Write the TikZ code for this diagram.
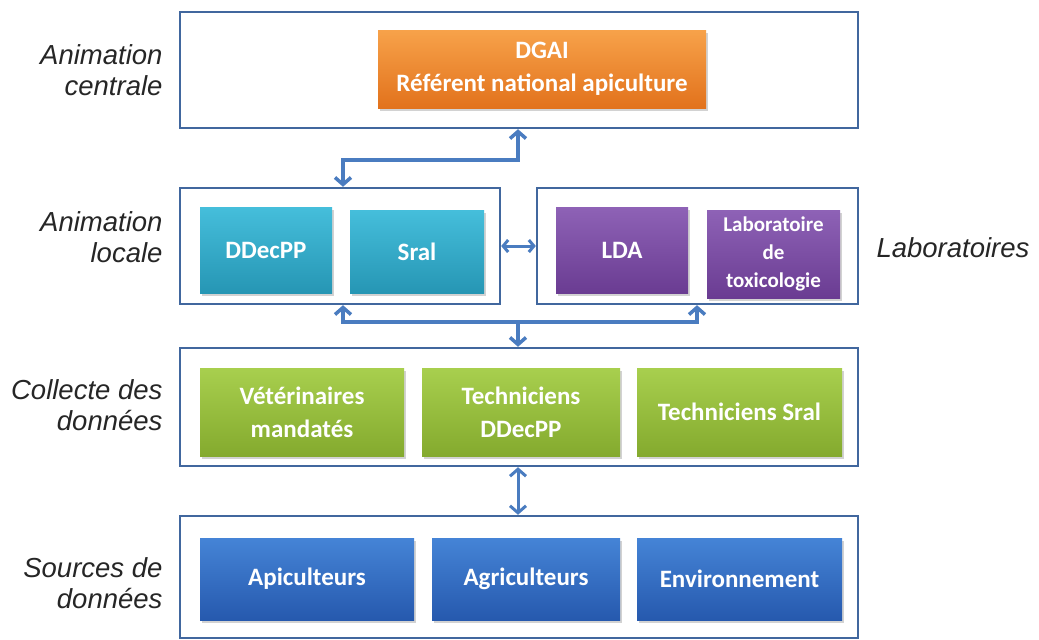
\documentclass[tikz,border=0pt]{standalone}
\usepackage{fontspec}
\setmainfont{Liberation Sans}
\newfontfamily\boxfont{Carlito}
\usetikzlibrary{arrows.meta,shadows}
\definecolor{frameblue}{HTML}{41679E}
\definecolor{arrowblue}{HTML}{4A7CC0}
\definecolor{orT}{HTML}{F7A24A}\definecolor{orB}{HTML}{E2721C}
\definecolor{cyT}{HTML}{45BEDB}\definecolor{cyB}{HTML}{2696B4}
\definecolor{puT}{HTML}{8E62B6}\definecolor{puB}{HTML}{6A3C92}
\definecolor{grT}{HTML}{A8CF4E}\definecolor{grB}{HTML}{84AA2E}
\definecolor{blT}{HTML}{4584D6}\definecolor{blB}{HTML}{2659AE}
\begin{document}
\begin{tikzpicture}[x=1pt,y=-1pt,
  frame/.style={draw=frameblue,line width=2.4pt,fill=white,inner sep=0pt},
  card/.style={inner sep=2pt,align=center,text=white,
    font=\boxfont\bfseries\fontsize{25}{33}\selectfont,
    drop shadow={shadow xshift=2pt,shadow yshift=-3pt,opacity=.35}},
  orangecard/.style={card,top color=orT,bottom color=orB},
  cyancard/.style={card,top color=cyT,bottom color=cyB},
  purplecard/.style={card,top color=puT,bottom color=puB},
  greencard/.style={card,top color=grT,bottom color=grB},
  bluecard/.style={card,top color=blT,bottom color=blB},
  lab/.style={font=\itshape\fontsize{27.5}{31}\selectfont,align=right,text=black!85},
  arr/.style={draw=arrowblue,line width=3.5pt,{Straight Barb[length=7pt,width=16pt]}-{Straight Barb[length=7pt,width=16pt]}},
  arrone/.style={draw=arrowblue,line width=3.5pt,-{Straight Barb[length=7pt,width=16pt]}}]
\useasboundingbox (0,0) rectangle (1039,640);
\fill[white] (0,0) rectangle (1039,640);
% containers
\node[frame,minimum width=678,minimum height=116] (top) at (519,70) {};
\node[frame,minimum width=320,minimum height=116] (locale) at (340,246) {};
\node[frame,minimum width=321,minimum height=116] (labo) at (697.5,246) {};
\node[frame,minimum width=678,minimum height=118] (collecte) at (519,407) {};
\node[frame,minimum width=678,minimum height=122] (sources) at (519,577) {};
% cards
\node[orangecard,minimum width=328,minimum height=78] (dgai) at (542,69) {DGAI\\Référent national apiculture};
\node[cyancard,minimum width=132,minimum height=86] (ddecpp) at (266,250) {DDecPP};
\node[cyancard,minimum width=134,minimum height=83] (sral) at (417,251.5) {Sral};
\node[purplecard,minimum width=132,minimum height=86] (lda) at (622,250) {LDA};
\node[purplecard,minimum width=133,minimum height=88,font=\boxfont\bfseries\fontsize{21}{28}\selectfont] (tox) at (773.5,254) {Laboratoire\\de\\toxicologie};
\node[greencard,minimum width=204,minimum height=88] (vet) at (302,412) {Vétérinaires\\mandatés};
\node[greencard,minimum width=198,minimum height=88] (tech1) at (521,412) {Techniciens\\DDecPP};
\node[greencard,minimum width=205,minimum height=88] (tech2) at (739.5,412) {Techniciens Sral};
\node[bluecard,minimum width=214,minimum height=82] (api) at (307,579) {Apiculteurs};
\node[bluecard,minimum width=188,minimum height=82] (agri) at (526,579) {Agriculteurs};
\node[bluecard,minimum width=205,minimum height=82] (env) at (739.5,579) {Environnement};
% labels
\node[lab,anchor=east] (l1) at (166,70) {Animation\\centrale};
\node[lab,anchor=east] (l2) at (166,237) {Animation\\locale};
\node[lab,anchor=east] (l3) at (166,405) {Collecte des\\données};
\node[lab,anchor=east] (l4) at (166,583) {Sources de\\données};
\node[lab,anchor=west] (l5) at (873,248) {Laboratoires};
% connectors
\coordinate (j1) at (343,160);
\coordinate (j2) at (518,160);
\draw[arr] (top.south -| j2) -- (j2) -- (j1) -- (locale.north -| j1);
\draw[arr,line width=3pt,{Straight Barb[length=5pt,width=12pt]}-{Straight Barb[length=5pt,width=12pt]}] (locale.east) -- (labo.west);
\coordinate (k1) at (343,322);
\coordinate (k2) at (697,322);
\coordinate (k3) at (518,322);
\draw[arr] (locale.south -| k1) -- (k1) -- (k2) -- (labo.south -| k2);
\draw[arrone] (k3) -- (collecte.north -| k3);
\coordinate (m1) at (518,490);
\draw[arr,line width=3pt] (collecte.south -| m1) -- (sources.north -| m1);
\end{tikzpicture}
\end{document}
